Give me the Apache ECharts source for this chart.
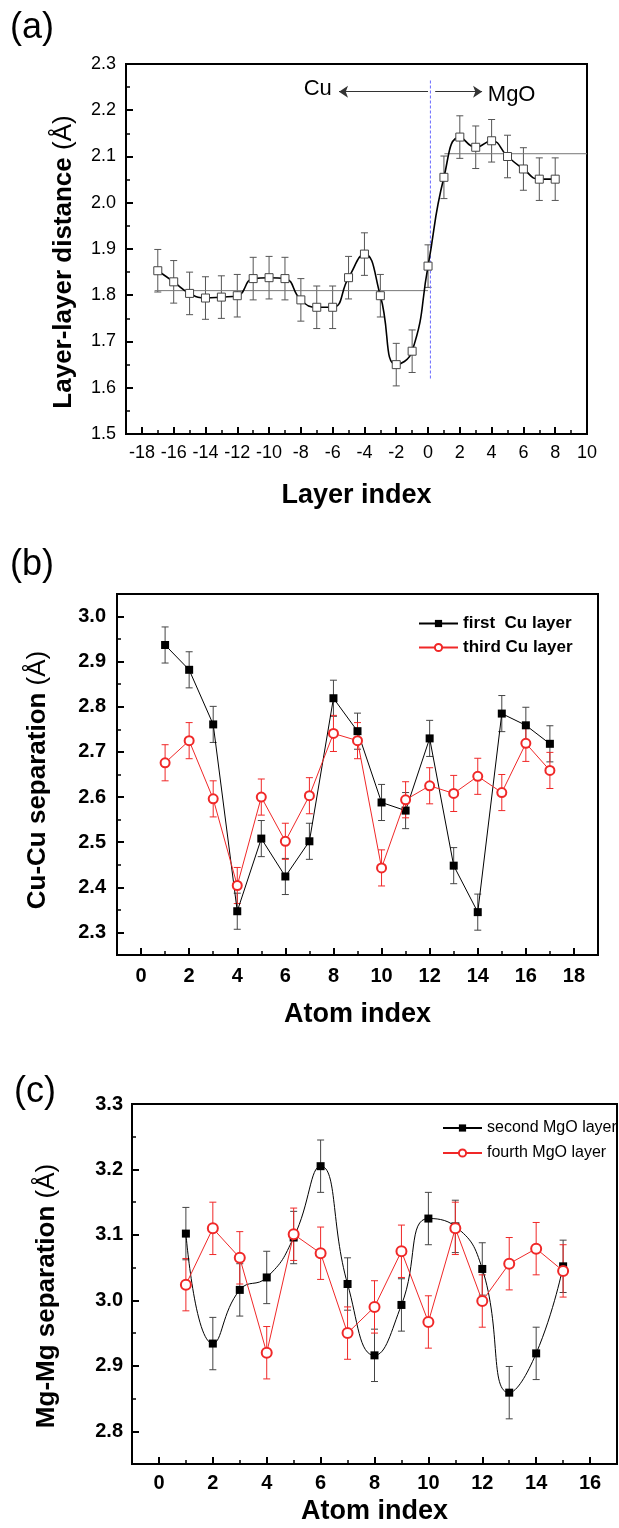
<!DOCTYPE html>
<html>
<head>
<meta charset="UTF-8">
<title>Layer distance and atom separation</title>
<script src="https://cdn.jsdelivr.net/npm/echarts@6.0.0/dist/echarts.min.js"></script>
<style>
  html, body { margin: 0; padding: 0; background: #fff; }
  #chart { width: 619px; height: 1528px; }
</style>
</head>
<body>
<div id="chart"></div>
<script>
// ---- (a) layer-layer distance ----
var layerIdx  = [-17,-16,-15,-14,-13,-12,-11,-10,-9,-8,-7,-6,-5,-4,-3,-2,-1,0,1,2,3,4,5,6,7,8];
var layerDist = [1.853,1.829,1.804,1.794,1.796,1.799,1.836,1.838,1.836,1.790,1.774,1.774,1.838,
                 1.889,1.799,1.650,1.679,1.863,2.055,2.142,2.120,2.134,2.100,2.073,2.051,2.051];
var layerErr  = [0.046,0.046,0.046,0.046,0.046,0.046,0.046,0.046,0.046,0.046,0.046,0.046,0.046,
                 0.046,0.046,0.046,0.046,0.046,0.046,0.046,0.046,0.046,0.046,0.046,0.046,0.046];
var aXLabels = [-18,-16,-14,-12,-10,-8,-6,-4,-2,0,2,4,6,8,10];
var aYLabels = [1.5,1.6,1.7,1.8,1.9,2.0,2.1,2.2,2.3];
var cuRefX   = [-17.2, 0],  cuRefY  = 1.81;
var mgoRefX  = [1.03, 10],  mgoRefY = 2.106;
var interfaceX = 0.15, interfaceY = [1.62, 2.268];
var arrowY = 2.24, cuArrowX = [0, -5.6], mgoArrowX = [0.45, 3.4];
var cuText = [-6.94, 2.247], mgoText = [5.26, 2.233];

// ---- (b) Cu-Cu separation ----
var atomB   = [1,2,3,4,5,6,7,8,9,10,11,12,13,14,15,16,17];
var firstCu = [2.937,2.882,2.761,2.347,2.508,2.424,2.502,2.819,2.746,2.588,2.570,2.730,2.448,2.345,2.785,2.759,2.718];
var thirdCu = [2.676,2.725,2.596,2.404,2.600,2.502,2.603,2.741,2.725,2.443,2.594,2.625,2.608,2.646,2.610,2.719,2.659];
var firstCuErr = [0.04,0.04,0.04,0.04,0.04,0.04,0.04,0.04,0.04,0.04,0.04,0.04,0.04,0.04,0.04,0.04,0.04];
var thirdCuErr = [0.04,0.04,0.04,0.04,0.04,0.04,0.04,0.04,0.04,0.04,0.04,0.04,0.04,0.04,0.04,0.04,0.04];
var bXLabels = [0,2,4,6,8,10,12,14,16,18];
var bYLabels = [2.3,2.4,2.5,2.6,2.7,2.8,2.9,3.0];

// ---- (c) Mg-Mg separation ----
var atomC     = [1,2,3,4,5,6,7,8,9,10,11,12,13,14,15];
var secondMgO = [3.102,2.934,3.016,3.035,3.096,3.205,3.025,2.916,2.993,3.125,3.113,3.048,2.859,2.919,3.052];
var fourthMgO = [3.024,3.110,3.065,2.920,3.101,3.072,2.950,2.990,3.075,2.967,3.110,2.999,3.056,3.079,3.045];
var secondErr = [0.04,0.04,0.04,0.04,0.04,0.04,0.04,0.04,0.04,0.04,0.04,0.04,0.04,0.04,0.04];
var fourthErr = [0.04,0.04,0.04,0.04,0.04,0.04,0.04,0.04,0.04,0.04,0.04,0.04,0.04,0.04,0.04];
var cXLabels = [0,2,4,6,8,10,12,14,16];
var cYLabels = [2.8,2.9,3.0,3.1,3.2,3.3];

var FONT = 'Liberation Sans, Arial, sans-serif';
var RED = '#f02828';

function pairs(xs, ys) { return xs.map(function (x, i) { return [x, ys[i]]; }); }
function triples(xs, ys, es) { return xs.map(function (x, i) { return [x, ys[i], es[i]]; }); }

// axis carrying the labels and the short (minor-step) ticks
function mainAxis(dim, grid, min, max, step, labels, label) {
  return {
    type: 'value', gridIndex: grid, min: min, max: max, interval: step,
    position: dim === 'x' ? 'bottom' : 'left',
    axisLine: { show: true, onZero: false, lineStyle: { color: '#000', width: 2 } },
    axisTick: { show: true, inside: true, length: 4, lineStyle: { color: '#000', width: 1.5 } },
    axisLabel: Object.assign({
      customValues: labels, color: '#000', fontFamily: FONT,
      formatter: dim === 'y' ? function (v) { return v.toFixed(1); } : function (v) { return String(v); }
    }, label),
    splitLine: { show: false }
  };
}
// overlay axis that only draws the longer ticks at the labelled values
function majorTickAxis(dim, grid, min, max, ticks) {
  return {
    type: 'value', gridIndex: grid, min: min, max: max,
    position: dim === 'x' ? 'bottom' : 'left',
    axisLine: { show: false, onZero: false },
    axisTick: { show: true, inside: true, length: 7, customValues: ticks, lineStyle: { color: '#000', width: 2 } },
    axisLabel: { show: false },
    splitLine: { show: false }
  };
}

function errorBars(xi, yi, data, color) {
  return {
    type: 'custom', xAxisIndex: xi, yAxisIndex: yi, z: 1, silent: true,
    encode: { x: 0, y: 1 },
    renderItem: function (params, api) {
      var x = api.value(0), y = api.value(1), e = api.value(2);
      var hi = api.coord([x, y + e]), lo = api.coord([x, y - e]);
      var w = 3.5, st = { stroke: color, lineWidth: 1 };
      return { type: 'group', children: [
        { type: 'line', shape: { x1: hi[0], y1: hi[1], x2: lo[0], y2: lo[1] }, style: st },
        { type: 'line', shape: { x1: hi[0] - w, y1: hi[1], x2: hi[0] + w, y2: hi[1] }, style: st },
        { type: 'line', shape: { x1: lo[0] - w, y1: lo[1], x2: lo[0] + w, y2: lo[1] }, style: st }
      ] };
    },
    data: data
  };
}

function plainLine(xi, yi, data, style) {
  return { type: 'line', xAxisIndex: xi, yAxisIndex: yi, symbol: 'none', silent: true, z: 1,
           lineStyle: style, data: data };
}

function yName(text, x, y) {
  return {
    type: 'text', x: x, y: y, rotation: Math.PI / 2, silent: true,
    style: {
      text: '{b|' + text + ' }{n|(Å)}', align: 'center', verticalAlign: 'middle',
      rich: {
        b: { fontSize: 26, fontWeight: 'bold', fontFamily: FONT, fill: '#000' },
        n: { fontSize: 26, fontWeight: 'normal', fontFamily: FONT, fill: '#000' }
      }
    }
  };
}
function panelTag(text, x, y) {
  return { type: 'text', x: x, y: y, silent: true,
           style: { text: text, fontSize: 36, fontFamily: FONT, fill: '#000', verticalAlign: 'middle' } };
}

var chart = echarts.init(document.getElementById('chart'));

var labA = { fontSize: 18, margin: 10 };
var labB = { fontSize: 20, fontWeight: 'bold', margin: 11 };
var labC = { fontSize: 20, fontWeight: 'bold', margin: 9 };

var xAxes = [
  mainAxis('x', 0, -19, 10, 1, aXLabels, labA), majorTickAxis('x', 0, -19, 10, aXLabels),
  mainAxis('x', 1, -1, 19, 1, bXLabels, labB),  majorTickAxis('x', 1, -1, 19, bXLabels),
  mainAxis('x', 2, -1, 17, 1, cXLabels, labC),  majorTickAxis('x', 2, -1, 17, cXLabels)
];
var yAxes = [
  mainAxis('y', 0, 1.5, 2.3, 0.05, aYLabels, labA),   majorTickAxis('y', 0, 1.5, 2.3, aYLabels),
  mainAxis('y', 1, 2.25, 3.05, 0.05, bYLabels, labB), majorTickAxis('y', 1, 2.25, 3.05, bYLabels),
  mainAxis('y', 2, 2.75, 3.3, 0.05, cYLabels, labC),  majorTickAxis('y', 2, 2.75, 3.3, cYLabels)
];
xAxes[0].name = 'Layer index';
xAxes[2].name = 'Atom index';
xAxes[4].name = 'Atom index';
[0, 2, 4].forEach(function (i, k) {
  xAxes[i].nameLocation = 'middle';
  xAxes[i].nameGap = [48, 46, 34][k];
  xAxes[i].nameTextStyle = { fontSize: 27, fontWeight: 'bold', fontFamily: FONT, color: '#000' };
});

var option = {
  animation: false,
  backgroundColor: '#fff',
  grid: [
    { left: 126, top: 64,   width: 461, height: 370, show: true, borderColor: '#000', borderWidth: 2 },
    { left: 117, top: 594,  width: 481, height: 361, show: true, borderColor: '#000', borderWidth: 2 },
    { left: 132, top: 1104, width: 485, height: 360, show: true, borderColor: '#000', borderWidth: 2 }
  ],
  xAxis: xAxes,
  yAxis: yAxes,
  legend: [
    { data: ['first  Cu layer', 'third Cu layer'], orient: 'vertical', left: 413, top: 610,
      itemWidth: 39, itemHeight: 9, itemGap: 7, selectedMode: false,
      textStyle: { fontSize: 17, fontWeight: 'bold', fontFamily: FONT, color: '#000' } },
    { data: ['second MgO layer', 'fourth MgO layer'], orient: 'vertical', left: 437, top: 1115,
      itemWidth: 39, itemHeight: 9, itemGap: 9, selectedMode: false,
      textStyle: { fontSize: 16, fontFamily: FONT, color: '#000' } }
  ],
  graphic: [
    panelTag('(a)', 10, 28), panelTag('(b)', 10, 565), panelTag('(c)', 14, 1092),
    yName('Layer-layer distance', 64, 262),
    yName('Cu-Cu separation', 38, 780),
    yName('Mg-Mg separation', 47, 1296)
  ],
  series: [
    // (a)
    plainLine(0, 0, pairs(cuRefX, [cuRefY, cuRefY]), { color: '#777', width: 1 }),
    plainLine(0, 0, pairs(mgoRefX, [mgoRefY, mgoRefY]), { color: '#777', width: 1 }),
    plainLine(0, 0, pairs([interfaceX, interfaceX], interfaceY), { color: '#6a6aff', width: 1, type: [3, 2] }),
    {
      type: 'line', xAxisIndex: 0, yAxisIndex: 0, symbol: 'none', silent: true, data: [],
      markLine: {
        silent: true, symbol: ['none', 'arrow'], symbolSize: 9,
        label: { show: false }, lineStyle: { color: '#333', width: 1, type: 'solid' },
        itemStyle: { color: '#333' },
        data: [
          [{ coord: [cuArrowX[0], arrowY] }, { coord: [cuArrowX[1], arrowY] }],
          [{ coord: [mgoArrowX[0], arrowY] }, { coord: [mgoArrowX[1], arrowY] }]
        ]
      },
      markPoint: {
        silent: true, symbol: 'circle', symbolSize: 1, itemStyle: { color: 'rgba(0,0,0,0)' },
        label: { show: true, position: 'inside', color: '#000', fontSize: 22, fontFamily: FONT,
                 formatter: function (p) { return p.name; } },
        data: [{ name: 'Cu', coord: cuText }, { name: 'MgO', coord: mgoText }]
      }
    },
    errorBars(0, 0, triples(layerIdx, layerDist, layerErr), '#555'),
    {
      name: 'layer distance', type: 'line', xAxisIndex: 0, yAxisIndex: 0, z: 3,
      smooth: 0.5, symbol: 'rect', symbolSize: 8,
      itemStyle: { color: '#fff', borderColor: '#444', borderWidth: 1 },
      lineStyle: { color: '#000', width: 1.6 },
      data: pairs(layerIdx, layerDist)
    },
    // (b)
    errorBars(2, 2, triples(atomB, firstCu, firstCuErr), '#444'),
    errorBars(2, 2, triples(atomB, thirdCu, thirdCuErr), RED),
    {
      name: 'first  Cu layer', type: 'line', xAxisIndex: 2, yAxisIndex: 2, z: 3,
      symbol: 'rect', symbolSize: 8, itemStyle: { color: '#000' },
      lineStyle: { color: '#000', width: 1 }, data: pairs(atomB, firstCu)
    },
    {
      name: 'third Cu layer', type: 'line', xAxisIndex: 2, yAxisIndex: 2, z: 4,
      symbol: 'emptyCircle', symbolSize: 9, itemStyle: { color: RED, borderWidth: 1 },
      lineStyle: { color: RED, width: 1 }, data: pairs(atomB, thirdCu)
    },
    // (c)
    errorBars(4, 4, triples(atomC, secondMgO, secondErr), '#444'),
    errorBars(4, 4, triples(atomC, fourthMgO, fourthErr), RED),
    {
      name: 'second MgO layer', type: 'line', xAxisIndex: 4, yAxisIndex: 4, z: 3,
      smooth: 0.5, symbol: 'rect', symbolSize: 8, itemStyle: { color: '#000' },
      lineStyle: { color: '#000', width: 1 }, data: pairs(atomC, secondMgO)
    },
    {
      name: 'fourth MgO layer', type: 'line', xAxisIndex: 4, yAxisIndex: 4, z: 4,
      symbol: 'emptyCircle', symbolSize: 10, itemStyle: { color: RED, borderWidth: 1 },
      lineStyle: { color: RED, width: 1 }, data: pairs(atomC, fourthMgO)
    }
  ]
};

chart.setOption(option);
</script>
</body>
</html>
